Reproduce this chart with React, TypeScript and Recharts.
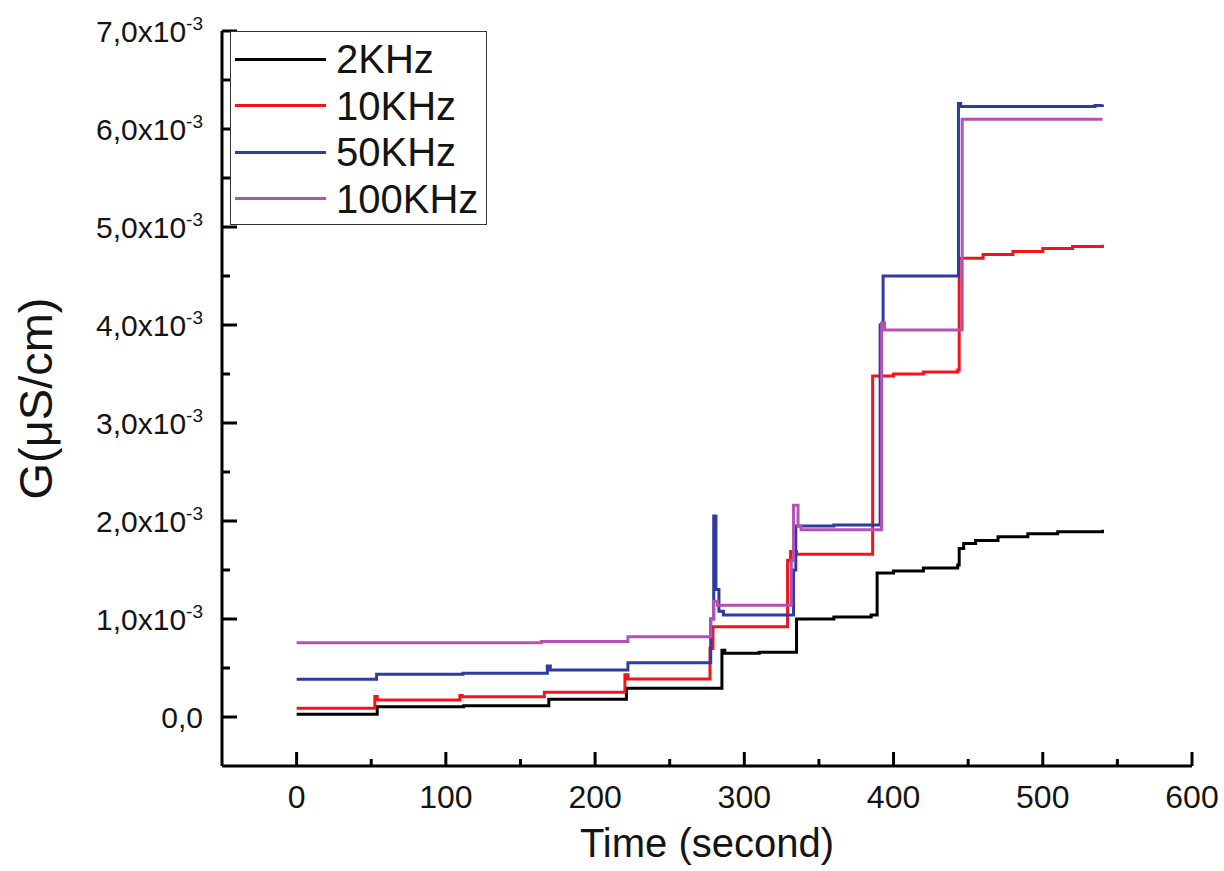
import { Label, Legend, Line, LineChart, XAxis, YAxis } from "recharts";

// time in seconds, G in units of 10^-3 µS/cm
const t2k = [0, 54, 112, 169, 221, 285, 287, 310, 335, 360, 385, 389, 400, 420, 443, 444, 447, 455, 470, 490, 510, 540];
const g2k = [0.027, 0.105, 0.115, 0.18, 0.293, 0.68, 0.65, 0.66, 1.0, 1.02, 1.04, 1.47, 1.49, 1.52, 1.55, 1.72, 1.77, 1.8, 1.84, 1.87, 1.89, 1.91];

const t10k = [0, 52.4, 54, 109.4, 111, 166, 220, 222, 277, 279, 329, 331, 335, 386, 400, 420, 443, 444, 460, 480, 500, 520, 540];
const g10k = [0.089, 0.21, 0.173, 0.22, 0.207, 0.252, 0.43, 0.388, 0.7, 0.92, 1.6, 1.69, 1.66, 3.48, 3.5, 3.52, 3.54, 4.68, 4.72, 4.75, 4.78, 4.8, 4.82];

const t50k = [0, 53.6, 111.5, 168, 170, 222, 277.5, 279.5, 281, 283, 286, 333, 334.5, 360, 391, 393, 420, 443.5, 445, 500, 535, 540];
const g50k = [0.385, 0.436, 0.446, 0.52, 0.48, 0.554, 1.0, 2.05, 1.3, 1.08, 1.04, 1.5, 1.95, 1.96, 4.0, 4.5, 4.5, 6.26, 6.23, 6.23, 6.24, 6.25];

const t100k = [0, 164, 222, 277.5, 279.5, 282, 331.5, 333, 336, 338, 392, 394, 446, 540];
const g100k = [0.758, 0.77, 0.82, 1.0, 1.18, 1.14, 1.6, 2.16, 1.95, 1.91, 4.02, 3.95, 6.1, 6.1];

const xTicks = [0, 50, 100, 150, 200, 250, 300, 350, 400, 450, 500, 550, 600];
const yTicks = [0, 0.5, 1, 1.5, 2, 2.5, 3, 3.5, 4, 4.5, 5, 5.5, 6, 6.5, 7];

const series = [
  { name: "2KHz", t: t2k, g: g2k, color: "#000000" },
  { name: "10KHz", t: t10k, g: g10k, color: "#f2141c" },
  { name: "50KHz", t: t50k, g: g50k, color: "#2d3c9e" },
  { name: "100KHz", t: t100k, g: g100k, color: "#b452b4" },
];

const toRows = (t: number[], g: number[]) => t.map((time, i) => ({ t: time, g: g[i] }));

const FONT = "'Liberation Sans', Arial, sans-serif";
const INK = "#141414";

function YTick({ x, y, payload }: any) {
  const v = payload.value;
  const major = Number.isInteger(v);
  return (
    <g>
      <line x1={x} x2={x + (major ? 15 : 8)} y1={y} y2={y} stroke="#000" strokeWidth={3} />
      {major && (
        <text x={x - 19} y={y + 11} textAnchor="end" fontSize={30} fill={INK}>
          {v === 0 ? (
            "0,0"
          ) : (
            <>
              {`${v},0x10`}
              <tspan dy={-12} fontSize={19}>-3</tspan>
            </>
          )}
        </text>
      )}
    </g>
  );
}

function XTick({ x, y, payload }: any) {
  const v = payload.value;
  const major = v % 100 === 0;
  return (
    <g>
      <line x1={x} x2={x} y1={y} y2={y - (major ? 14 : 7)} stroke="#000" strokeWidth={3} />
      {major && (
        <text x={x} y={y + 42} textAnchor="middle" fontSize={32} fill={INK}>
          {v}
        </text>
      )}
    </g>
  );
}

// legend keeps the series order (Recharts sorts its payload by name)
function LegendBox() {
  return (
    <div
      style={{
        boxSizing: "border-box",
        width: 257,
        height: 194,
        border: "1.5px solid #333",
        background: "#fff",
        padding: "4px 0 0 4px",
        fontFamily: FONT,
      }}
    >
      {series.map((s) => (
        <div key={s.name} style={{ display: "flex", alignItems: "center", height: 46.5 }}>
          <div style={{ width: 91, height: 3, background: s.color }} />
          <span style={{ marginLeft: 10, fontSize: 40, color: INK, lineHeight: "46.5px" }}>{s.name}</span>
        </div>
      ))}
    </div>
  );
}

export default function App() {
  return (
    <div style={{ position: "absolute", left: 0, top: 0, background: "#fff", fontFamily: FONT }}>
      <LineChart
        width={1224}
        height={871}
        margin={{ top: 31, right: 32, left: 0, bottom: 0 }}
        style={{ fontFamily: FONT }}
      >
        <XAxis
          xAxisId="b"
          dataKey="t"
          type="number"
          domain={[-50, 600]}
          ticks={xTicks}
          interval={0}
          height={105}
          tickSize={0}
          tickMargin={0}
          tickLine={false}
          tick={<XTick />}
          axisLine={{ stroke: "#000", strokeWidth: 3 }}
          allowDataOverflow
        >
          <Label
            content={({ viewBox }: any) => (
              <text
                x={viewBox.x + viewBox.width / 2}
                y={viewBox.y + 91}
                textAnchor="middle"
                fontSize={40}
                fill={INK}
              >
                Time (second)
              </text>
            )}
          />
        </XAxis>
        <XAxis
          xAxisId="top"
          orientation="top"
          type="number"
          domain={[-50, 600]}
          height={0}
          tick={false}
          tickLine={false}
          axisLine={{ stroke: "#000", strokeWidth: 3 }}
        />
        <YAxis
          yAxisId="l"
          type="number"
          domain={[-0.5, 7]}
          ticks={yTicks}
          interval={0}
          width={222}
          tickSize={0}
          tickMargin={0}
          tickLine={false}
          tick={<YTick />}
          axisLine={{ stroke: "#000", strokeWidth: 3 }}
          allowDataOverflow
        >
          <Label
            content={({ viewBox }: any) => {
              const cx = 35;
              const cy = viewBox.y + viewBox.height / 2;
              return (
                <text
                  x={cx}
                  y={cy}
                  textAnchor="middle"
                  dominantBaseline="central"
                  fontSize={47}
                  fill={INK}
                  transform={`rotate(-90, ${cx}, ${cy})`}
                >
                  G(μS/cm)
                </text>
              );
            }}
          />
        </YAxis>
        <YAxis
          yAxisId="r"
          orientation="right"
          type="number"
          domain={[-0.5, 7]}
          width={0}
          tick={false}
          tickLine={false}
          axisLine={{ stroke: "#000", strokeWidth: 3 }}
        />
        <Legend
          layout="vertical"
          align="center"
          verticalAlign="middle"
          content={<LegendBox />}
          wrapperStyle={{ left: 230, top: 31, width: 257, height: 194 }}
        />
        {series.map((s) => (
          <Line
            key={s.name}
            xAxisId="b"
            yAxisId="l"
            data={toRows(s.t, s.g)}
            dataKey="g"
            name={s.name}
            type="stepAfter"
            stroke={s.color}
            strokeWidth={3}
            dot={false}
            activeDot={false}
            isAnimationActive={false}
          />
        ))}
      </LineChart>
    </div>
  );
}
